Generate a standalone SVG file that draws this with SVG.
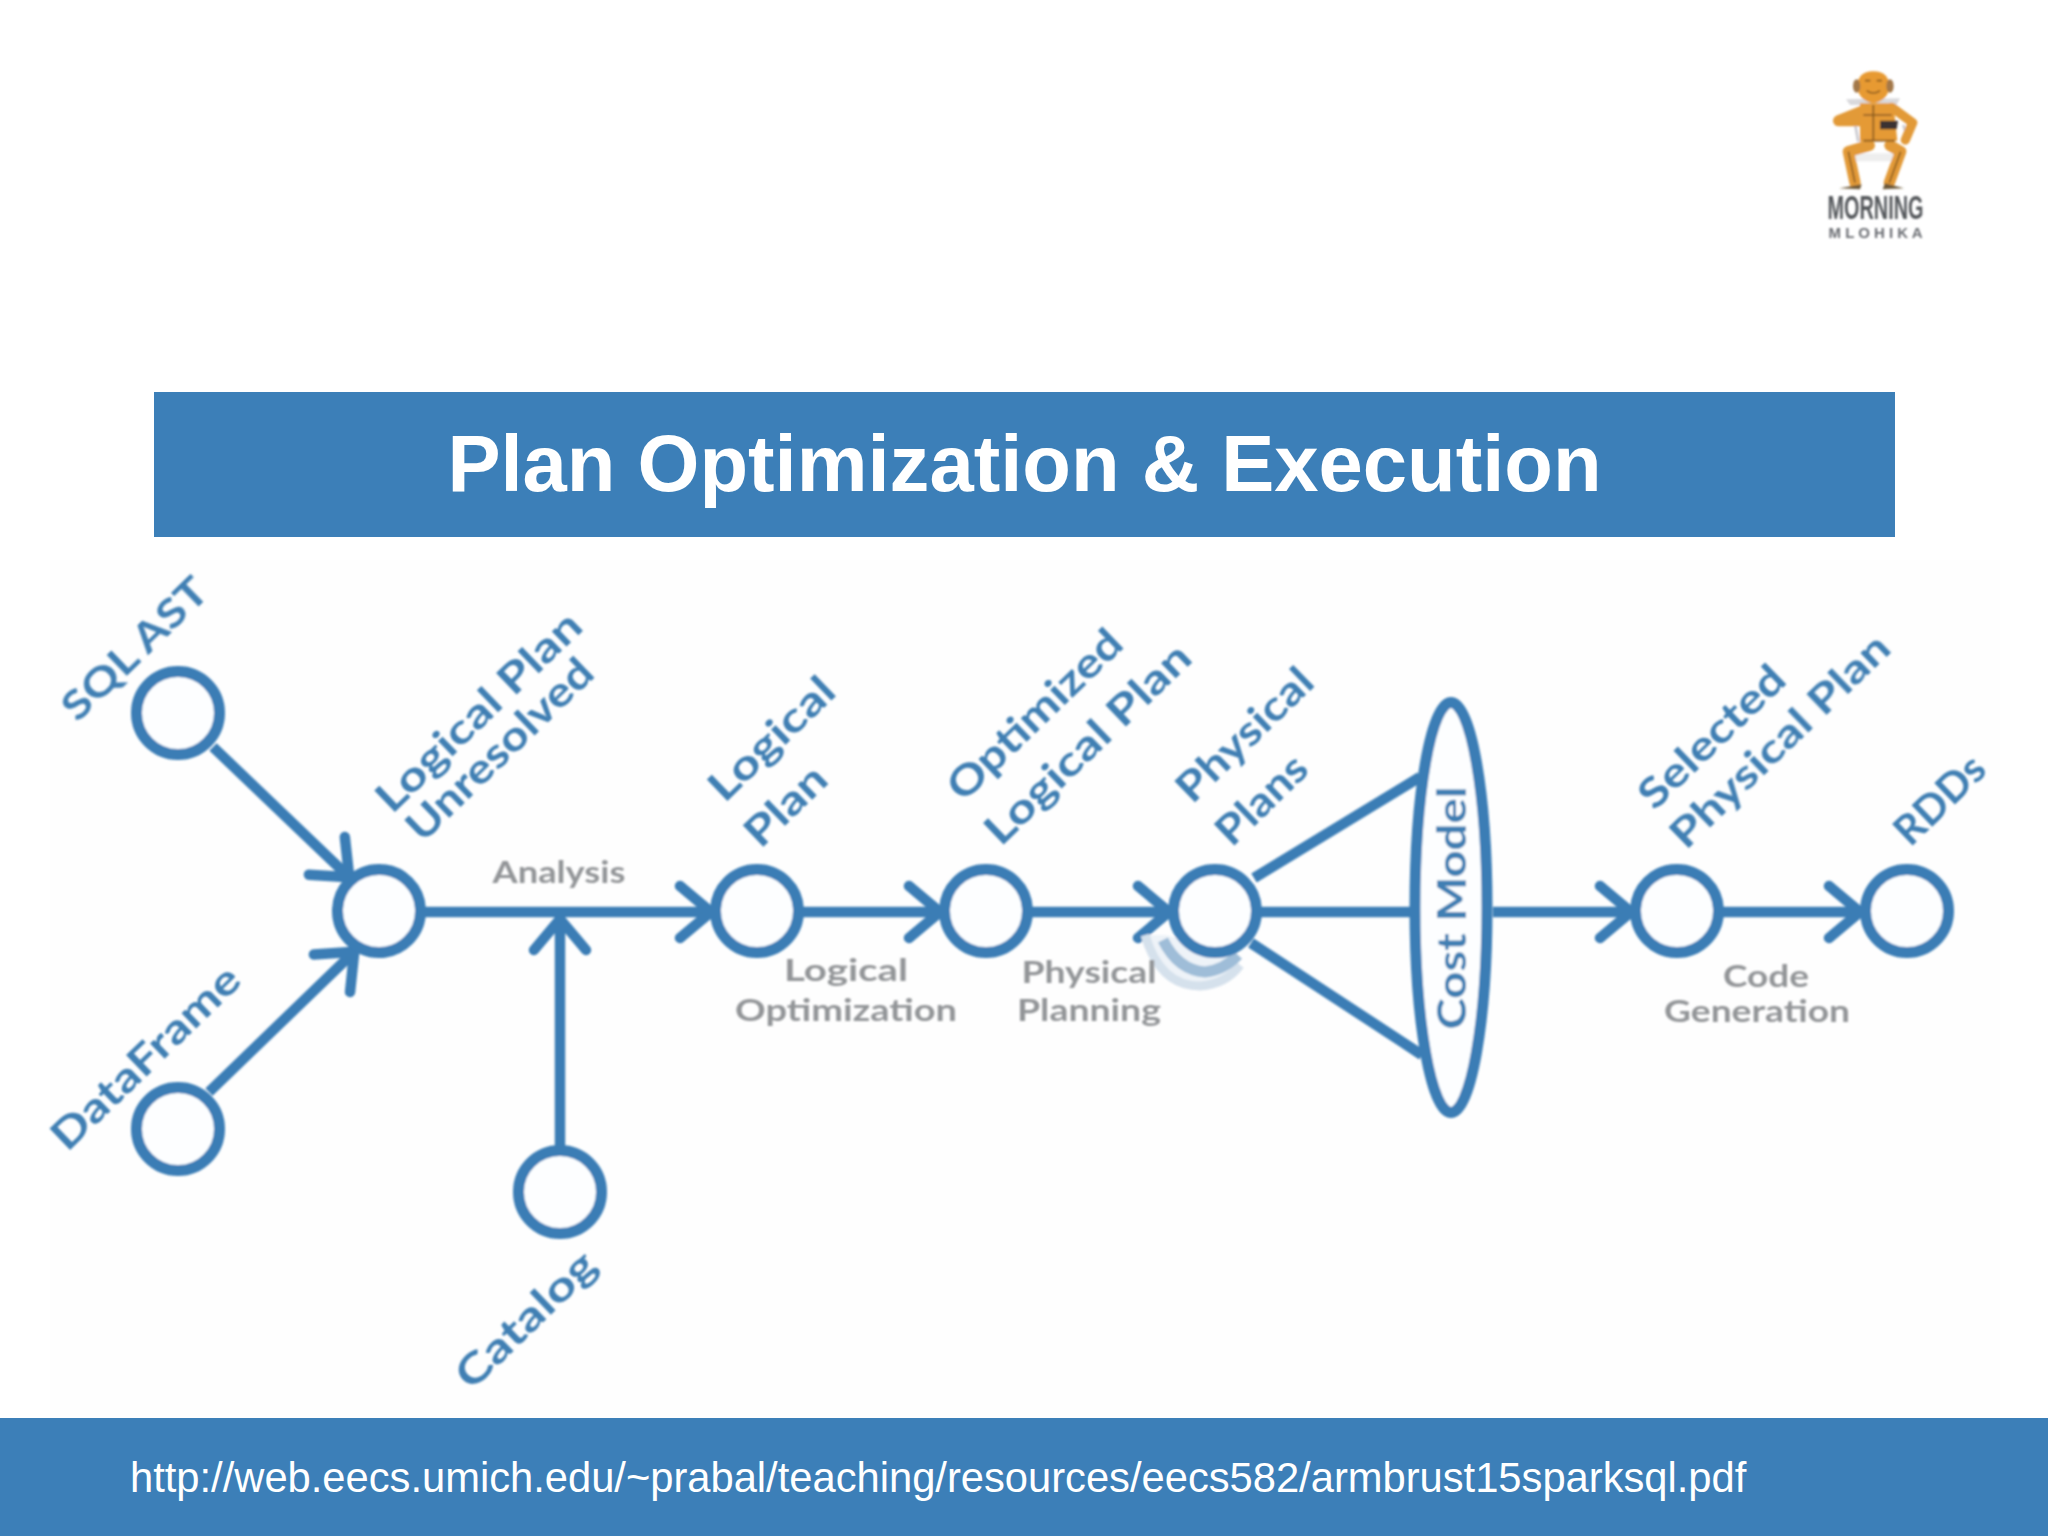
<svg xmlns="http://www.w3.org/2000/svg" width="2048" height="1536" viewBox="0 0 2048 1536">
<style>
.band{fill:#3c7fb8}
.node{fill:#fdfeff;stroke:#3b7db5;stroke-width:11}
.conn{fill:none;stroke:#3b7db5;stroke-width:10.5;stroke-linecap:butt}
.lbl{font-family:"Lato","Liberation Sans",sans-serif;font-size:41px;font-weight:700;fill:#3f7fb3;text-anchor:middle}
.note{font-family:"Lato","Liberation Sans",sans-serif;font-size:31px;fill:#939598;text-anchor:middle;font-weight:700}
.limb{fill:none;stroke:#e29a38;stroke-linecap:round;stroke-linejoin:round}
</style>
<defs>
<marker id="arrow" markerUnits="userSpaceOnUse" markerWidth="60" markerHeight="70" refX="40" refY="35" orient="auto">
<path d="M8 9 L39 35 L8 61" fill="none" stroke="#3b7db5" stroke-width="10.5" stroke-linecap="round" stroke-linejoin="round"/>
</marker>
<filter id="soft" x="-5%" y="-5%" width="110%" height="110%"><feGaussianBlur stdDeviation="1"/></filter>
<filter id="softer" x="-5%" y="-5%" width="110%" height="110%"><feGaussianBlur stdDeviation="0.8"/></filter>
</defs>
<rect width="2048" height="1536" fill="#ffffff"/>
<rect x="50" y="560" width="1950" height="858" fill="#fefefe"/>

<g id="logo" filter="url(#softer)">
<g transform="translate(1780 50) scale(.33333)">
<path d="M198 148 L360 145 L350 165 L210 165Z" fill="#d9d9dc"/>
<path d="M225 220 L235 275 M370 225 L385 270" stroke="#c9c9cf" stroke-width="8" fill="none"/>
<rect x="222" y="310" width="128" height="24" fill="#eeeeee"/>
<path class="limb" stroke-width="34" d="M262 178 L176 212 L238 212"/>
<path class="limb" stroke-width="28" d="M335 172 L398 218 L376 270"/>
<path d="M240 160 L340 160 L352 272 L240 275Z" fill="#e59a35"/>
<path d="M300 212 L354 212 L350 238 L300 238Z" fill="#3a3230"/>
<path class="limb" stroke-width="34" d="M268 286 L205 305 L225 398"/>
<path class="limb" stroke-width="34" d="M330 286 L362 305 L328 398"/>
<path d="M178 415 L245 403 L240 418Z M308 418 L315 400 L372 415Z" fill="#6e5a3a"/>
<path d="M232 110 Q232 65 280 64 Q328 65 328 110 Q325 150 280 160 Q235 150 232 110Z" fill="#e79a33"/>
<ellipse cx="230" cy="108" rx="11" ry="20" fill="#a3784a"/>
<ellipse cx="330" cy="108" rx="11" ry="20" fill="#a3784a"/>
<path d="M255 92 h16 M290 92 h16 M260 122 Q280 136 300 122 M280 165 V270 M250 195 H335 M250 272 H345 M205 305 L225 398 M362 305 L328 398" stroke="#8a5a20" stroke-width="5" fill="none"/>
</g>
<text x="1875.500" y="219" font-family="'Liberation Sans Narrow','Liberation Sans',sans-serif" font-size="34" font-weight="700" fill="#55585c" text-anchor="middle" textLength="96" lengthAdjust="spacingAndGlyphs">MORNING</text>
<text x="1875.500" y="238" font-family="'Liberation Sans Narrow','Liberation Sans',sans-serif" font-size="15" font-weight="700" fill="#6a6d72" text-anchor="middle" textLength="94" lengthAdjust="spacing">M L O H I K A</text>
</g>

<rect id="title-band" class="band" x="154" y="392" width="1741" height="145"/>
<text id="title" x="1024.500" y="491" font-family="'Liberation Sans',Arial,sans-serif" font-size="79.600" font-weight="700" fill="#ffffff" text-anchor="middle">Plan Optimization &amp; Execution</text>

<g filter="url(#soft)">
<g id="connectors">
<path class="conn" d="M213 747 L350 878" marker-end="url(#arrow)"/>
<path class="conn" d="M209 1092 L355 951" marker-end="url(#arrow)"/>
<path class="conn" d="M424 912 H712" marker-end="url(#arrow)"/>
<path class="conn" d="M560 1149 V918" marker-end="url(#arrow)"/>
<path class="conn" d="M802 912 H941" marker-end="url(#arrow)"/>
<path class="conn" d="M1032 912 H1170" marker-end="url(#arrow)"/>
<path class="conn" d="M1254 878 L1420 777"/>
<path class="conn" d="M1261 912 H1412"/>
<path class="conn" d="M1251 943 L1422 1055"/>
<path class="conn" d="M1493 912 H1632" marker-end="url(#arrow)"/>
<path class="conn" d="M1722 912 H1861" marker-end="url(#arrow)"/>
<path d="M1145 935 Q1160 986 1200 986 Q1226 984 1240 965 L1232 950 L1165 935Z" fill="#eef3f8"/>
<path d="M1145 935 Q1160 986 1200 986 Q1226 984 1240 965" fill="none" stroke="#d5e1ec" stroke-width="9"/>
<path d="M1163 940 Q1178 970 1205 972 Q1224 970 1238 955" fill="none" stroke="#9fbdd8" stroke-width="11"/>
</g>

<g id="node-sql-ast"><circle class="node" cx="178" cy="713" r="41.500"/><text class="lbl" transform="translate(134 648) rotate(-44)" y="15" textLength="186" lengthAdjust="spacingAndGlyphs">SQL AST</text></g>
<g id="node-dataframe"><circle class="node" cx="178" cy="1129" r="41.500"/><text class="lbl" transform="translate(145 1057) rotate(-44)" y="15" textLength="245" lengthAdjust="spacingAndGlyphs">DataFrame</text></g>
<g id="node-catalog"><circle class="node" cx="560" cy="1192" r="41.500"/><text class="lbl" transform="translate(525 1319) rotate(-44)" y="15" textLength="178" lengthAdjust="spacingAndGlyphs">Catalog</text></g>
<g id="node-unresolved"><circle class="node" cx="379" cy="911" r="41.500"/><text class="lbl" transform="translate(478 711) rotate(-44)" y="15" textLength="268" lengthAdjust="spacingAndGlyphs">Logical Plan</text><text class="lbl" transform="translate(499 749) rotate(-44)" y="15" textLength="242" lengthAdjust="spacingAndGlyphs">Unresolved</text></g>
<g id="node-logical"><circle class="node" cx="757" cy="911" r="41.500"/><text class="lbl" transform="translate(771 738) rotate(-44)" y="15" textLength="158" lengthAdjust="spacingAndGlyphs">Logical</text><text class="lbl" transform="translate(785 805) rotate(-44)" y="15" textLength="97" lengthAdjust="spacingAndGlyphs">Plan</text></g>
<g id="node-optimized"><circle class="node" cx="986" cy="911" r="41.500"/><text class="lbl" transform="translate(1034 714) rotate(-44)" y="15" textLength="226" lengthAdjust="spacingAndGlyphs">Optimized</text><text class="lbl" transform="translate(1087 743) rotate(-44)" y="15" textLength="269" lengthAdjust="spacingAndGlyphs">Logical Plan</text></g>
<g id="node-physical"><circle class="node" cx="1215" cy="911" r="41.500"/><text class="lbl" transform="translate(1244 734) rotate(-44)" y="15" textLength="173" lengthAdjust="spacingAndGlyphs">Physical</text><text class="lbl" transform="translate(1261 799) rotate(-44)" y="15" textLength="110" lengthAdjust="spacingAndGlyphs">Plans</text></g>
<g id="node-cost-model"><ellipse class="node" cx="1451" cy="907.500" rx="36" ry="205"/><text class="lbl" transform="translate(1451 908) rotate(-90)" y="15" textLength="243" lengthAdjust="spacingAndGlyphs">Cost Model</text></g>
<g id="node-selected"><circle class="node" cx="1677" cy="911" r="41.500"/><text class="lbl" transform="translate(1711 736) rotate(-44)" y="15" textLength="186" lengthAdjust="spacingAndGlyphs">Selected</text><text class="lbl" transform="translate(1779 740) rotate(-44)" y="15" textLength="288" lengthAdjust="spacingAndGlyphs">Physical Plan</text></g>
<g id="node-rdds"><circle class="node" cx="1907" cy="911" r="41.500"/><text class="lbl" transform="translate(1939 799) rotate(-44)" y="15" textLength="109" lengthAdjust="spacingAndGlyphs">RDDs</text></g>

<g id="notes">
<text class="note" x="559" y="883" textLength="133" lengthAdjust="spacingAndGlyphs">Analysis</text>
<text class="note" x="846" y="981" textLength="124" lengthAdjust="spacingAndGlyphs">Logical</text>
<text class="note" x="846" y="1021" textLength="222" lengthAdjust="spacingAndGlyphs">Optimization</text>
<text class="note" x="1089" y="983" textLength="135" lengthAdjust="spacingAndGlyphs">Physical</text>
<text class="note" x="1089" y="1021" textLength="144" lengthAdjust="spacingAndGlyphs">Planning</text>
<text class="note" x="1766" y="987" textLength="86" lengthAdjust="spacingAndGlyphs">Code</text>
<text class="note" x="1757" y="1022" textLength="186" lengthAdjust="spacingAndGlyphs">Generation</text>
</g>
</g>

<rect id="footer-band" class="band" x="0" y="1418" width="2048" height="118"/>
<text id="footer" x="130" y="1492" font-family="'Liberation Sans',Arial,sans-serif" font-size="41.700" fill="#ffffff">http://web.eecs.umich.edu/~prabal/teaching/resources/eecs582/armbrust15sparksql.pdf</text>
</svg>
